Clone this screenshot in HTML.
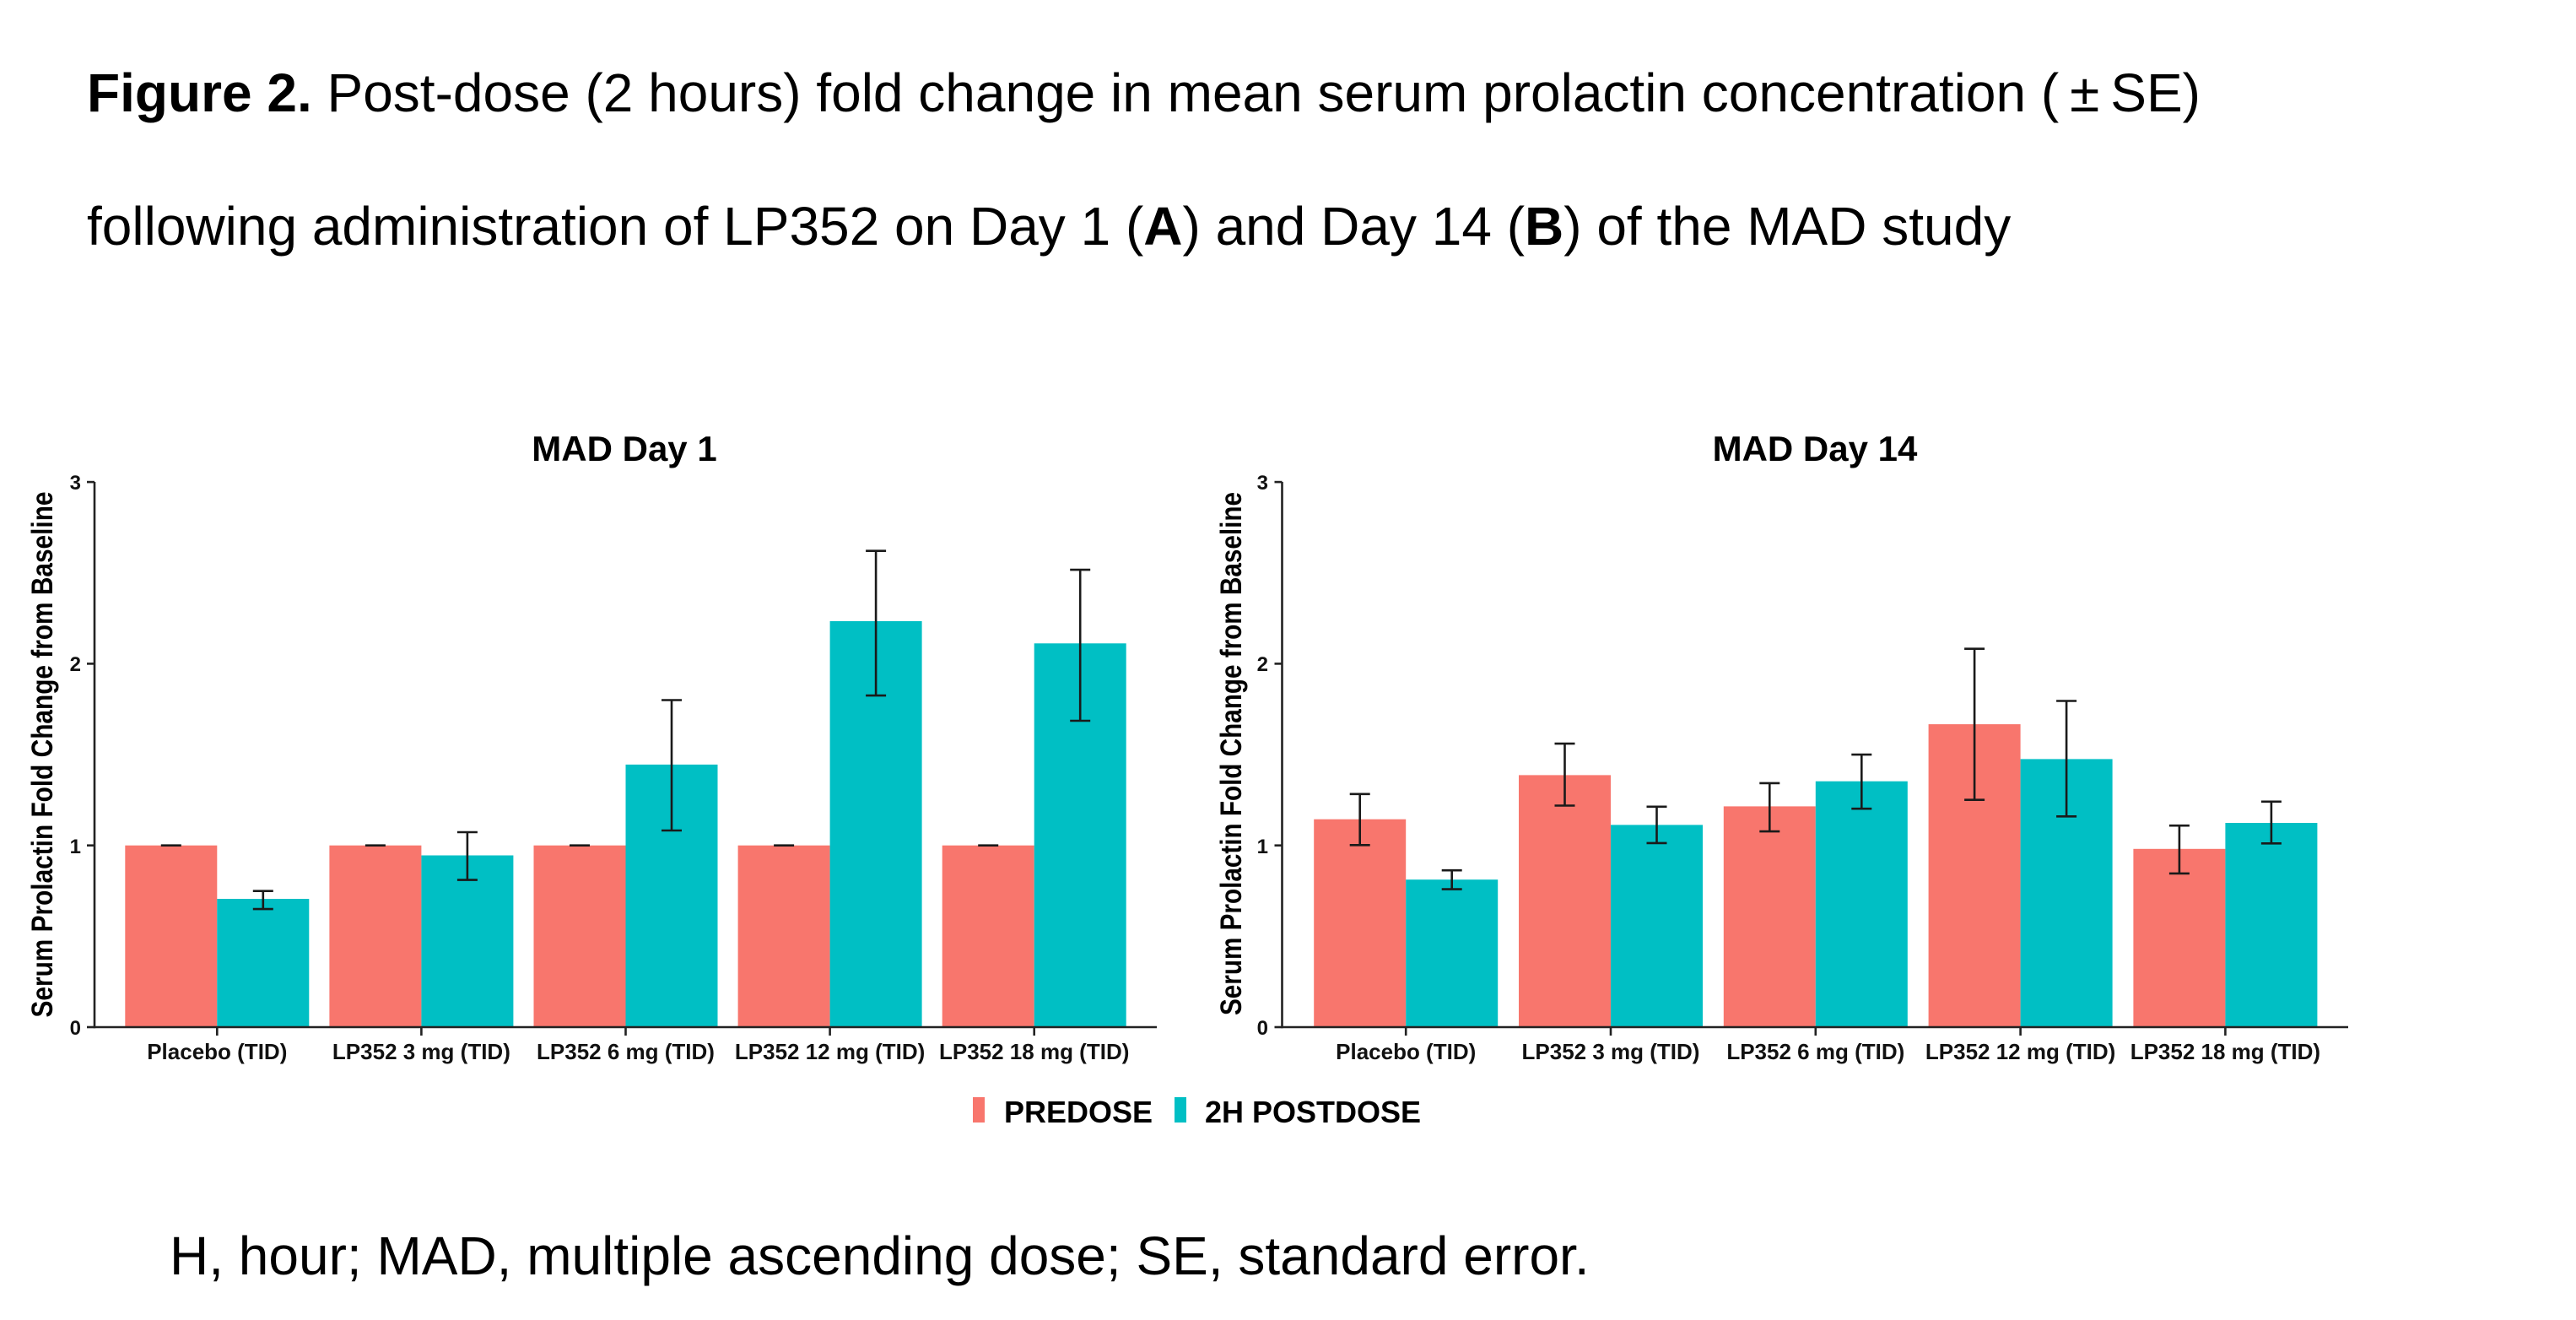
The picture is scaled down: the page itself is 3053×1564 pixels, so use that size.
<!DOCTYPE html>
<html>
<head>
<meta charset="utf-8">
<style>
html,body{margin:0;padding:0;background:#fff;}
svg{display:block;}
text{font-family:"Liberation Sans",Arial,"Noto Sans CJK SC",sans-serif;}
</style>
</head>
<body>
<svg width="3053" height="1564" viewBox="0 0 3053 1564" xmlns="http://www.w3.org/2000/svg">
<rect x="0" y="0" width="3053" height="1564" fill="#fff"/>

<!-- Header -->
<text x="103" y="132" font-size="64" fill="#000"><tspan font-weight="bold">Figure 2.</tspan> Post-dose (2 hours) fold change in mean serum prolactin concentration (<tspan dx="13">±</tspan><tspan dx="13">SE)</tspan></text>
<text x="103" y="290" font-size="64" fill="#000">following administration of LP352 on Day 1 (<tspan font-weight="bold">A</tspan>) and Day 14 (<tspan font-weight="bold">B</tspan>) of the MAD study</text>

<!-- ============ Panel A ============ -->
<text x="740" y="546" font-size="42" font-weight="bold" text-anchor="middle" fill="#000">MAD Day 1</text>
<text transform="translate(62,894) rotate(-90)" font-size="35" font-weight="bold" text-anchor="middle" textLength="623" lengthAdjust="spacingAndGlyphs" fill="#000">Serum Prolactin Fold Change from Baseline</text>

<g fill="#F8766D">
<rect x="148.3" y="1001.7" width="109" height="215.3"/>
<rect x="390.4" y="1001.7" width="109" height="215.3"/>
<rect x="632.5" y="1001.7" width="109" height="215.3"/>
<rect x="874.6" y="1001.7" width="109" height="215.3"/>
<rect x="1116.7" y="1001.7" width="109" height="215.3"/>
</g>
<g fill="#00BFC4">
<rect x="257.3" y="1065.0" width="109" height="152.0"/>
<rect x="499.4" y="1013.5" width="109" height="203.5"/>
<rect x="741.5" y="905.9" width="109" height="311.1"/>
<rect x="983.6" y="736.0" width="109" height="481.0"/>
<rect x="1225.7" y="762.3" width="109" height="454.7"/>
</g>

<g stroke="#1a1a1a" stroke-width="2.6" fill="none">
<line x1="190.8" y1="1001.7" x2="214.8" y2="1001.7"/>
<line x1="432.9" y1="1001.7" x2="456.9" y2="1001.7"/>
<line x1="675" y1="1001.7" x2="699" y2="1001.7"/>
<line x1="917.1" y1="1001.7" x2="941.1" y2="1001.7"/>
<line x1="1159.2" y1="1001.7" x2="1183.2" y2="1001.7"/>
<path d="M311.8 1055.7V1077.1M299.8 1055.7H323.8M299.8 1077.1H323.8"/>
<path d="M553.9 986.0V1042.6M541.9 986.0H565.9M541.9 1042.6H565.9"/>
<path d="M796 829.5V984.0M784 829.5H808M784 984.0H808"/>
<path d="M1038.1 652.7V824.1M1026.1 652.7H1050.1M1026.1 824.1H1050.1"/>
<path d="M1280.2 675.1V854.0M1268.2 675.1H1292.2M1268.2 854.0H1292.2"/>
</g>

<g stroke="#222" stroke-width="2.6" fill="none">
<line x1="112" y1="571" x2="112" y2="1218.3"/>
<line x1="112" y1="1217" x2="1371" y2="1217"/>
<line x1="103" y1="571.1" x2="112" y2="571.1"/>
<line x1="103" y1="786.4" x2="112" y2="786.4"/>
<line x1="103" y1="1001.7" x2="112" y2="1001.7"/>
<line x1="103" y1="1217" x2="112" y2="1217"/>
<line x1="257.3" y1="1217" x2="257.3" y2="1227"/>
<line x1="499.4" y1="1217" x2="499.4" y2="1227"/>
<line x1="741.5" y1="1217" x2="741.5" y2="1227"/>
<line x1="983.6" y1="1217" x2="983.6" y2="1227"/>
<line x1="1225.7" y1="1217" x2="1225.7" y2="1227"/>
</g>
<g font-size="24" font-weight="bold" text-anchor="end" fill="#111">
<text x="96" y="580">3</text>
<text x="96" y="795">2</text>
<text x="96" y="1011">1</text>
<text x="96" y="1226">0</text>
</g>
<g font-size="26" font-weight="bold" text-anchor="middle" fill="#111">
<text x="257.3" y="1255">Placebo (TID)</text>
<text x="499.4" y="1255">LP352 3 mg (TID)</text>
<text x="741.5" y="1255">LP352 6 mg (TID)</text>
<text x="983.6" y="1255">LP352 12 mg (TID)</text>
<text x="1225.7" y="1255">LP352 18 mg (TID)</text>
</g>

<!-- ============ Panel B ============ -->
<text x="2151" y="546" font-size="42" font-weight="bold" text-anchor="middle" fill="#000">MAD Day 14</text>
<text transform="translate(1471,893) rotate(-90)" font-size="35" font-weight="bold" text-anchor="middle" textLength="620" lengthAdjust="spacingAndGlyphs" fill="#000">Serum Prolactin Fold Change from Baseline</text>

<g fill="#F8766D">
<rect x="1557.2" y="970.7" width="109" height="246.3"/>
<rect x="1800" y="918.4" width="109" height="298.6"/>
<rect x="2042.8" y="955.4" width="109" height="261.6"/>
<rect x="2285.6" y="858.1" width="109" height="358.9"/>
<rect x="2528.4" y="1005.8" width="109" height="211.2"/>
</g>
<g fill="#00BFC4">
<rect x="1666.2" y="1042.2" width="109" height="174.8"/>
<rect x="1909" y="977.4" width="109" height="239.6"/>
<rect x="2151.8" y="925.7" width="109" height="291.3"/>
<rect x="2394.6" y="899.4" width="109" height="317.6"/>
<rect x="2637.4" y="975.0" width="109" height="242.0"/>
</g>

<g stroke="#1a1a1a" stroke-width="2.6" fill="none">
<path d="M1611.7 940.8V1001.3M1599.7 940.8H1623.7M1599.7 1001.3H1623.7"/>
<path d="M1720.7 1031.2V1053.6M1708.7 1031.2H1732.7M1708.7 1053.6H1732.7"/>
<path d="M1854.5 881.1V954.5M1842.5 881.1H1866.5M1842.5 954.5H1866.5"/>
<path d="M1963.5 955.8V998.9M1951.5 955.8H1975.5M1951.5 998.9H1975.5"/>
<path d="M2097.3 927.9V985.1M2085.3 927.9H2109.3M2085.3 985.1H2109.3"/>
<path d="M2206.3 894.1V958.2M2194.3 894.1H2218.3M2194.3 958.2H2218.3"/>
<path d="M2340.1 768.7V947.7M2328.1 768.7H2352.1M2328.1 947.7H2352.1"/>
<path d="M2449.1 830.5V967.3M2437.1 830.5H2461.1M2437.1 967.3H2461.1"/>
<path d="M2582.9 978.2V1034.9M2570.9 978.2H2594.9M2570.9 1034.9H2594.9"/>
<path d="M2691.9 949.8V999.3M2679.9 949.8H2703.9M2679.9 999.3H2703.9"/>
</g>

<g stroke="#222" stroke-width="2.6" fill="none">
<line x1="1519.5" y1="571" x2="1519.5" y2="1218.3"/>
<line x1="1519.5" y1="1217" x2="2783" y2="1217"/>
<line x1="1510.5" y1="571.1" x2="1519.5" y2="571.1"/>
<line x1="1510.5" y1="786.4" x2="1519.5" y2="786.4"/>
<line x1="1510.5" y1="1001.7" x2="1519.5" y2="1001.7"/>
<line x1="1510.5" y1="1217" x2="1519.5" y2="1217"/>
<line x1="1666.2" y1="1217" x2="1666.2" y2="1227"/>
<line x1="1909" y1="1217" x2="1909" y2="1227"/>
<line x1="2151.8" y1="1217" x2="2151.8" y2="1227"/>
<line x1="2394.6" y1="1217" x2="2394.6" y2="1227"/>
<line x1="2637.4" y1="1217" x2="2637.4" y2="1227"/>
</g>
<g font-size="24" font-weight="bold" text-anchor="end" fill="#111">
<text x="1503" y="580">3</text>
<text x="1503" y="795">2</text>
<text x="1503" y="1011">1</text>
<text x="1503" y="1226">0</text>
</g>
<g font-size="26" font-weight="bold" text-anchor="middle" fill="#111">
<text x="1666.2" y="1255">Placebo (TID)</text>
<text x="1909" y="1255">LP352 3 mg (TID)</text>
<text x="2151.8" y="1255">LP352 6 mg (TID)</text>
<text x="2394.6" y="1255">LP352 12 mg (TID)</text>
<text x="2637.4" y="1255">LP352 18 mg (TID)</text>
</g>

<!-- Legend -->
<rect x="1153" y="1300" width="14" height="30" fill="#F8766D"/>
<text x="1190" y="1330" font-size="36" font-weight="bold" fill="#000">PREDOSE</text>
<rect x="1392" y="1300" width="14" height="30" fill="#00BFC4"/>
<text x="1428" y="1330" font-size="36" font-weight="bold" fill="#000">2H POSTDOSE</text>

<!-- Caption -->
<text x="201" y="1510" font-size="64" fill="#000">H, hour; MAD, multiple ascending dose; SE, standard error.</text>
</svg>
</body>
</html>
